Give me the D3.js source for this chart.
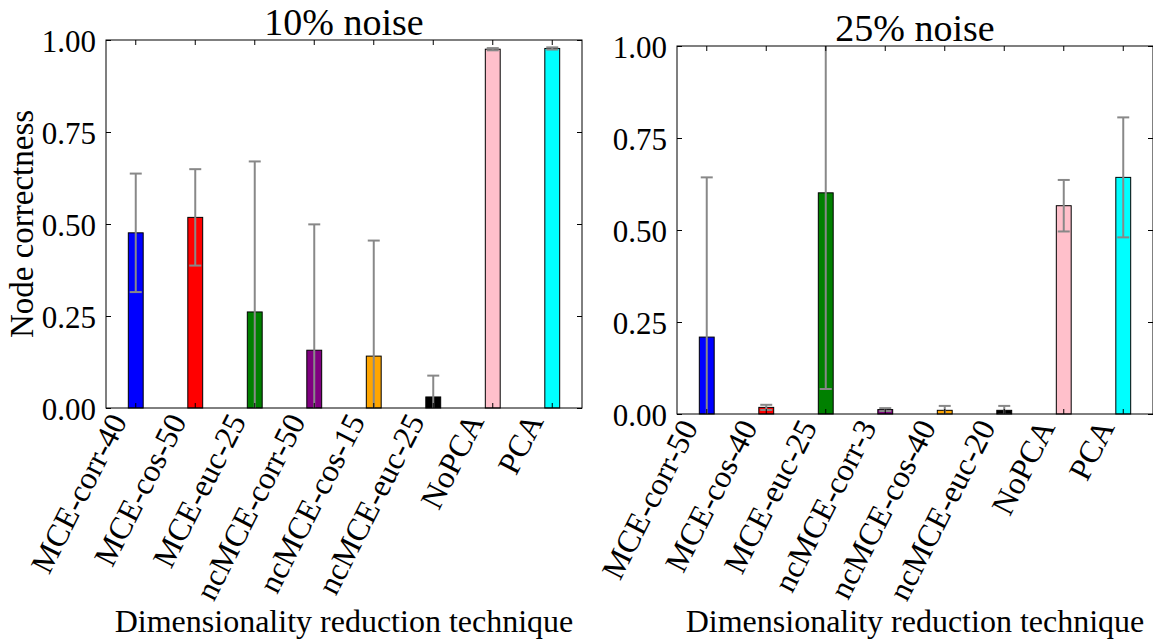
<!DOCTYPE html>
<html>
<head>
<meta charset="utf-8">
<script src="https://cdn.jsdelivr.net/npm/d3@7"></script>
<style>
  body { margin: 0; background: white; }
  text { font-family: "Liberation Serif", "Times New Roman", serif; fill: black; }
</style>
</head>
<body>
<div id="vis"></div>
<script>
// values
let labels10 = ['MCE-corr-40', 'MCE-cos-50', 'MCE-euc-25', 'ncMCE-corr-50', 'ncMCE-cos-15', 'ncMCE-euc-25', 'NoPCA', 'PCA'];
let means10 = [0.476, 0.518, 0.261, 0.157, 0.141, 0.030, 0.975, 0.977];
let errs10 = [0.161, 0.131, 0.409, 0.342, 0.314, 0.058, 0.003, 0.003];

let labels25 = ['MCE-corr-50', 'MCE-cos-40', 'MCE-euc-25', 'ncMCE-corr-3', 'ncMCE-cos-40', 'ncMCE-euc-20', 'NoPCA', 'PCA'];
let means25 = [0.209, 0.018, 0.601, 0.012, 0.010, 0.010, 0.566, 0.643];
let errs25 = [0.434, 0.007, 0.533, 0.004, 0.012, 0.012, 0.070, 0.163];

let barColors = ['blue', 'red', 'green', 'purple', 'orange', 'black', 'pink', 'cyan'];
let yTicks = [0, 0.25, 0.5, 0.75, 1.0];

let W = 1153, H = 642;
let plotW = 476, plotH = 368;

let svg = d3.select('#vis')
  .append('svg')
  .attr('width', W)
  .attr('height', H)
  .style('background-color', 'white');

function drawPanel(left, top, title, labels, means, errs, id) {
  let g = svg.append('g').attr('transform', `translate(${left},${top})`);

  let x = d3.scaleBand()
    .domain(labels)
    .range([0, plotW])
    .paddingInner(0.75)
    .paddingOuter(0.375);

  let y = d3.scaleLinear().domain([0, 1]).range([plotH, 0]);

  g.append('clipPath').attr('id', id)
    .append('rect').attr('width', plotW).attr('height', plotH);

  // bars
  g.selectAll('rect.bar')
    .data(labels)
    .join('rect')
    .attr('class', 'bar')
    .attr('x', d => x(d))
    .attr('y', (d, i) => y(means[i]))
    .attr('width', x.bandwidth())
    .attr('height', (d, i) => y(0) - y(means[i]))
    .attr('fill', (d, i) => barColors[i])
    .attr('stroke', 'black')
    .attr('stroke-width', 1);

  // error bars, clipped to the plot box
  let eg = g.append('g').attr('clip-path', `url(#${id})`);
  let cap = 6;
  labels.forEach((d, i) => {
    let cx = x(d) + x.bandwidth() / 2;
    let lo = y(means[i] - errs[i]), hi = y(means[i] + errs[i]);
    eg.append('line').attr('x1', cx).attr('x2', cx).attr('y1', lo).attr('y2', hi)
      .attr('stroke', '#888').attr('stroke-width', 2);
    [lo, hi].forEach(v => {
      eg.append('line').attr('x1', cx - cap).attr('x2', cx + cap).attr('y1', v).attr('y2', v)
        .attr('stroke', '#888').attr('stroke-width', 2);
    });
  });

  // axes, ticks pointing inward on all sides
  let fmt = d3.format('.2f');
  let yl = g.append('g').call(d3.axisLeft(y).tickValues(yTicks).tickFormat(fmt).tickSize(-5).tickPadding(10));
  let yr = g.append('g').attr('transform', `translate(${plotW},0)`)
    .call(d3.axisRight(y).tickValues(yTicks).tickFormat('').tickSize(-5));
  let xt = g.append('g').call(d3.axisTop(x).tickFormat('').tickSize(-5));
  let xb = g.append('g').attr('transform', `translate(0,${plotH})`)
    .call(d3.axisBottom(x).tickSize(-5));

  [yl, yr, xt, xb].forEach(a => {
    a.select('.domain').remove();
    a.selectAll('line').attr('stroke', 'black');
  });

  yl.selectAll('text')
    .attr('font-size', 31)
    .attr('dy', '0.36em');

  xb.selectAll('text')
    .attr('font-size', 32)
    .attr('text-anchor', 'end')
    .attr('y', 0).attr('dy', 0)
    .attr('transform', 'translate(-8,13) rotate(-63)');

  // frame
  g.append('rect')
    .attr('width', plotW).attr('height', plotH)
    .attr('fill', 'none').attr('stroke', 'black').attr('stroke-width', 1);

  g.append('text')
    .attr('x', plotW / 2).attr('y', -5)
    .attr('text-anchor', 'middle')
    .attr('font-size', 38)
    .text(title);

  g.append('text')
    .attr('x', plotW / 2).attr('y', 632 - top)
    .attr('text-anchor', 'middle')
    .attr('font-size', 32)
    .text('Dimensionality reduction technique');

  return g;
}

drawPanel(106, 40, '10% noise', labels10, means10, errs10, 'clip10');
drawPanel(677, 46, '25% noise', labels25, means25, errs25, 'clip25');

svg.append('text')
  .attr('transform', `translate(33,${40 + plotH / 2}) rotate(-90)`)
  .attr('text-anchor', 'middle')
  .attr('font-size', 33)
  .text('Node correctness');
</script>
</body>
</html>
